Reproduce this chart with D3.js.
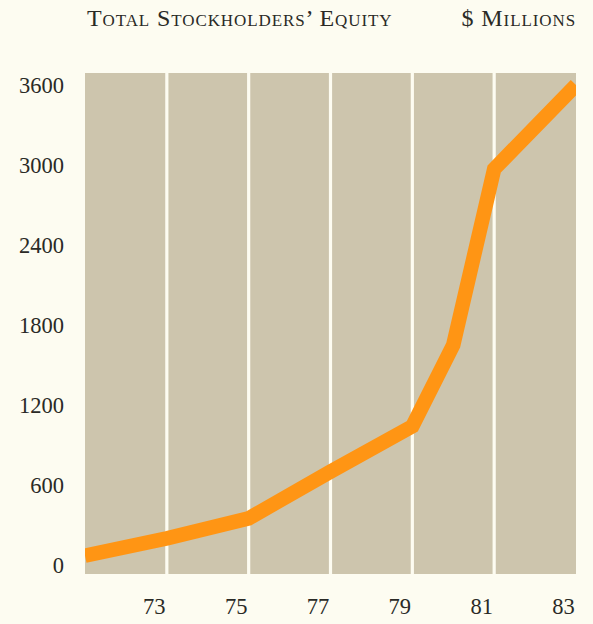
<!DOCTYPE html>
<html>
<head>
<meta charset="utf-8">
<script src="https://cdn.jsdelivr.net/npm/d3@7"></script>
<style>
  html, body { margin: 0; padding: 0; background: #fdfcf1; }
  svg { display: block; }
  text { font-family: "Liberation Serif", "DejaVu Serif", serif; fill: #2a2a26; }
</style>
</head>
<body>
<svg id="chart" width="593" height="624"></svg>
<script>
// Fiscal years with a plotted value, and total stockholders' equity ($ millions)
const years = [71, 73, 75, 77, 79, 80, 81, 83];
const equity = [70, 200, 350, 700, 1040, 1650, 2970, 3600];

// Axis ticks
const yTicks = [0, 600, 1200, 1800, 2400, 3000, 3600];
const xTickYears = [73, 75, 77, 79, 81, 83];
// Shaded two-year bands
const bandEdges = [71, 73, 75, 77, 79, 81, 83];

const title = "Total Stockholders\u2019 Equity";
const unitLabel = "$ Millions";

const svg = d3.select("#chart");
const W = 593, H = 624;

const plot = { left: 85, right: 576, top: 73, bottom: 574 };

const x = d3.scaleLinear().domain([71, 83]).range([plot.left, plot.right]);
const y = d3.scaleLinear().domain([0, 3600]).range([565, 85]);

// background
svg.append("rect").attr("width", W).attr("height", H).attr("fill", "#fdfcf1");

// gray bands separated by thin light gaps
const gap = 1.6;
const bands = d3.pairs(bandEdges);
svg.append("g").selectAll("rect")
  .data(bands)
  .join("rect")
  .attr("x", (d, i) => x(d[0]) + (i > 0 ? gap : 0))
  .attr("width", (d, i) => x(d[1]) - x(d[0]) - (i > 0 ? gap : 0) - (i < bands.length - 1 ? gap : 0))
  .attr("y", plot.top)
  .attr("height", plot.bottom - plot.top)
  .attr("fill", "#cdc5ad");

// clip the line to the banded area
svg.append("clipPath").attr("id", "plotClip")
  .append("rect")
  .attr("x", plot.left).attr("y", 0)
  .attr("width", plot.right - plot.left).attr("height", H);

const points = years.map((yr, i) => [yr, equity[i]]);
const line = d3.line().x(d => x(d[0])).y(d => y(d[1]));

svg.append("path")
  .datum(points)
  .attr("clip-path", "url(#plotClip)")
  .attr("d", line)
  .attr("fill", "none")
  .attr("stroke", "#ff9514")
  .attr("stroke-width", 14.5)
  .attr("stroke-linejoin", "miter")
  .attr("stroke-miterlimit", 10);

// y axis labels
const yAxis = d3.axisLeft(y).tickValues(yTicks).tickSize(0).tickPadding(0).tickFormat(d3.format("d"));
const gy = svg.append("g").attr("transform", "translate(64,0)").call(yAxis);
gy.select(".domain").remove();
gy.selectAll("text")
  .attr("font-size", 22.5)
  .attr("dy", "0.33em")
  .style("font-family", "\"Liberation Serif\", serif")
  .attr("fill", "#2a2a26");

// x axis labels
const xAxis = d3.axisBottom(x).tickValues(xTickYears).tickSize(0).tickPadding(0).tickFormat(d => String(d));
const gx = svg.append("g").attr("transform", "translate(-13,598)").call(xAxis);
gx.select(".domain").remove();
gx.selectAll("text")
  .attr("font-size", 22.5)
  .attr("dy", "0.71em")
  .style("font-family", "\"Liberation Serif\", serif")
  .attr("fill", "#2a2a26");

// header
svg.append("text")
  .attr("x", 87).attr("y", 26)
  .attr("font-size", 24)
  .attr("letter-spacing", 0.9)
  .style("font-variant", "small-caps")
  .text(title);

svg.append("text")
  .attr("x", 576).attr("y", 26)
  .attr("text-anchor", "end")
  .attr("font-size", 24)
  .attr("letter-spacing", 0.9)
  .style("font-variant", "small-caps")
  .text(unitLabel);
</script>
</body>
</html>
